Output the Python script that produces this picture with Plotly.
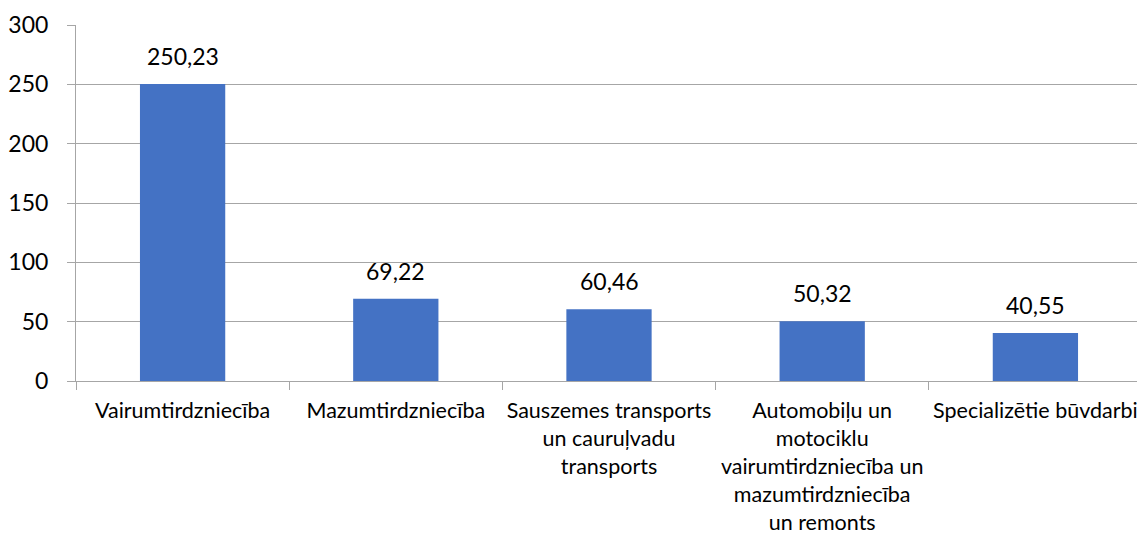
import plotly.graph_objects as go

categories = [
    "Vairumtirdzniecība",
    "Mazumtirdzniecība",
    "Sauszemes transports<br>un cauruļvadu<br>transports",
    "Automobiļu un<br>motociklu<br>vairumtirdzniecība un<br>mazumtirdzniecība<br>un remonts",
    "Specializētie būvdarbi",
]
values = [250.23, 69.22, 60.46, 50.32, 40.55]
labels = [f"{v:.2f}".replace(".", ",") for v in values]

fnt = "Lato, Carlito, Calibri, sans-serif"

fig = go.Figure(go.Bar(
    x=categories, y=values,
    marker=dict(color="#4472C4", line=dict(width=0)),
    hoverinfo="x+y",
))

for c, v, t in zip(categories, values, labels):
    fig.add_annotation(x=c, y=v, text=t, showarrow=False, yanchor="middle",
                       yshift=28, font=dict(size=23, color="#000000", family=fnt))

# page body has an 8px margin, so the figure is sized/offset to compensate
fig.update_layout(
    width=1137, height=529,
    margin=dict(l=68, r=3, t=17, b=156),
    paper_bgcolor="white", plot_bgcolor="white",
    bargap=0.6,
    showlegend=False,
    font=dict(family=fnt, color="#000000"),
)
fig.update_yaxes(
    range=[0, 300], dtick=50,
    showgrid=True, gridcolor="#A6A6A6", gridwidth=1,
    showline=True, linecolor="#A6A6A6", linewidth=1,
    ticks="outside", ticklen=8, tickcolor="#A6A6A6",
    tickfont=dict(size=23, family=fnt),
    ticklabelstandoff=14,
    zeroline=False, automargin=False,
)
fig.update_xaxes(
    showgrid=False,
    showline=True, linecolor="#A6A6A6", linewidth=1,
    ticks="outside", ticklen=8, tickcolor="#A6A6A6", tickson="boundaries",
    tickfont=dict(size=21.5, family=fnt),
    ticklabelstandoff=10,
    tickangle=0, automargin=False,
)

fig.write_html("out.html")
